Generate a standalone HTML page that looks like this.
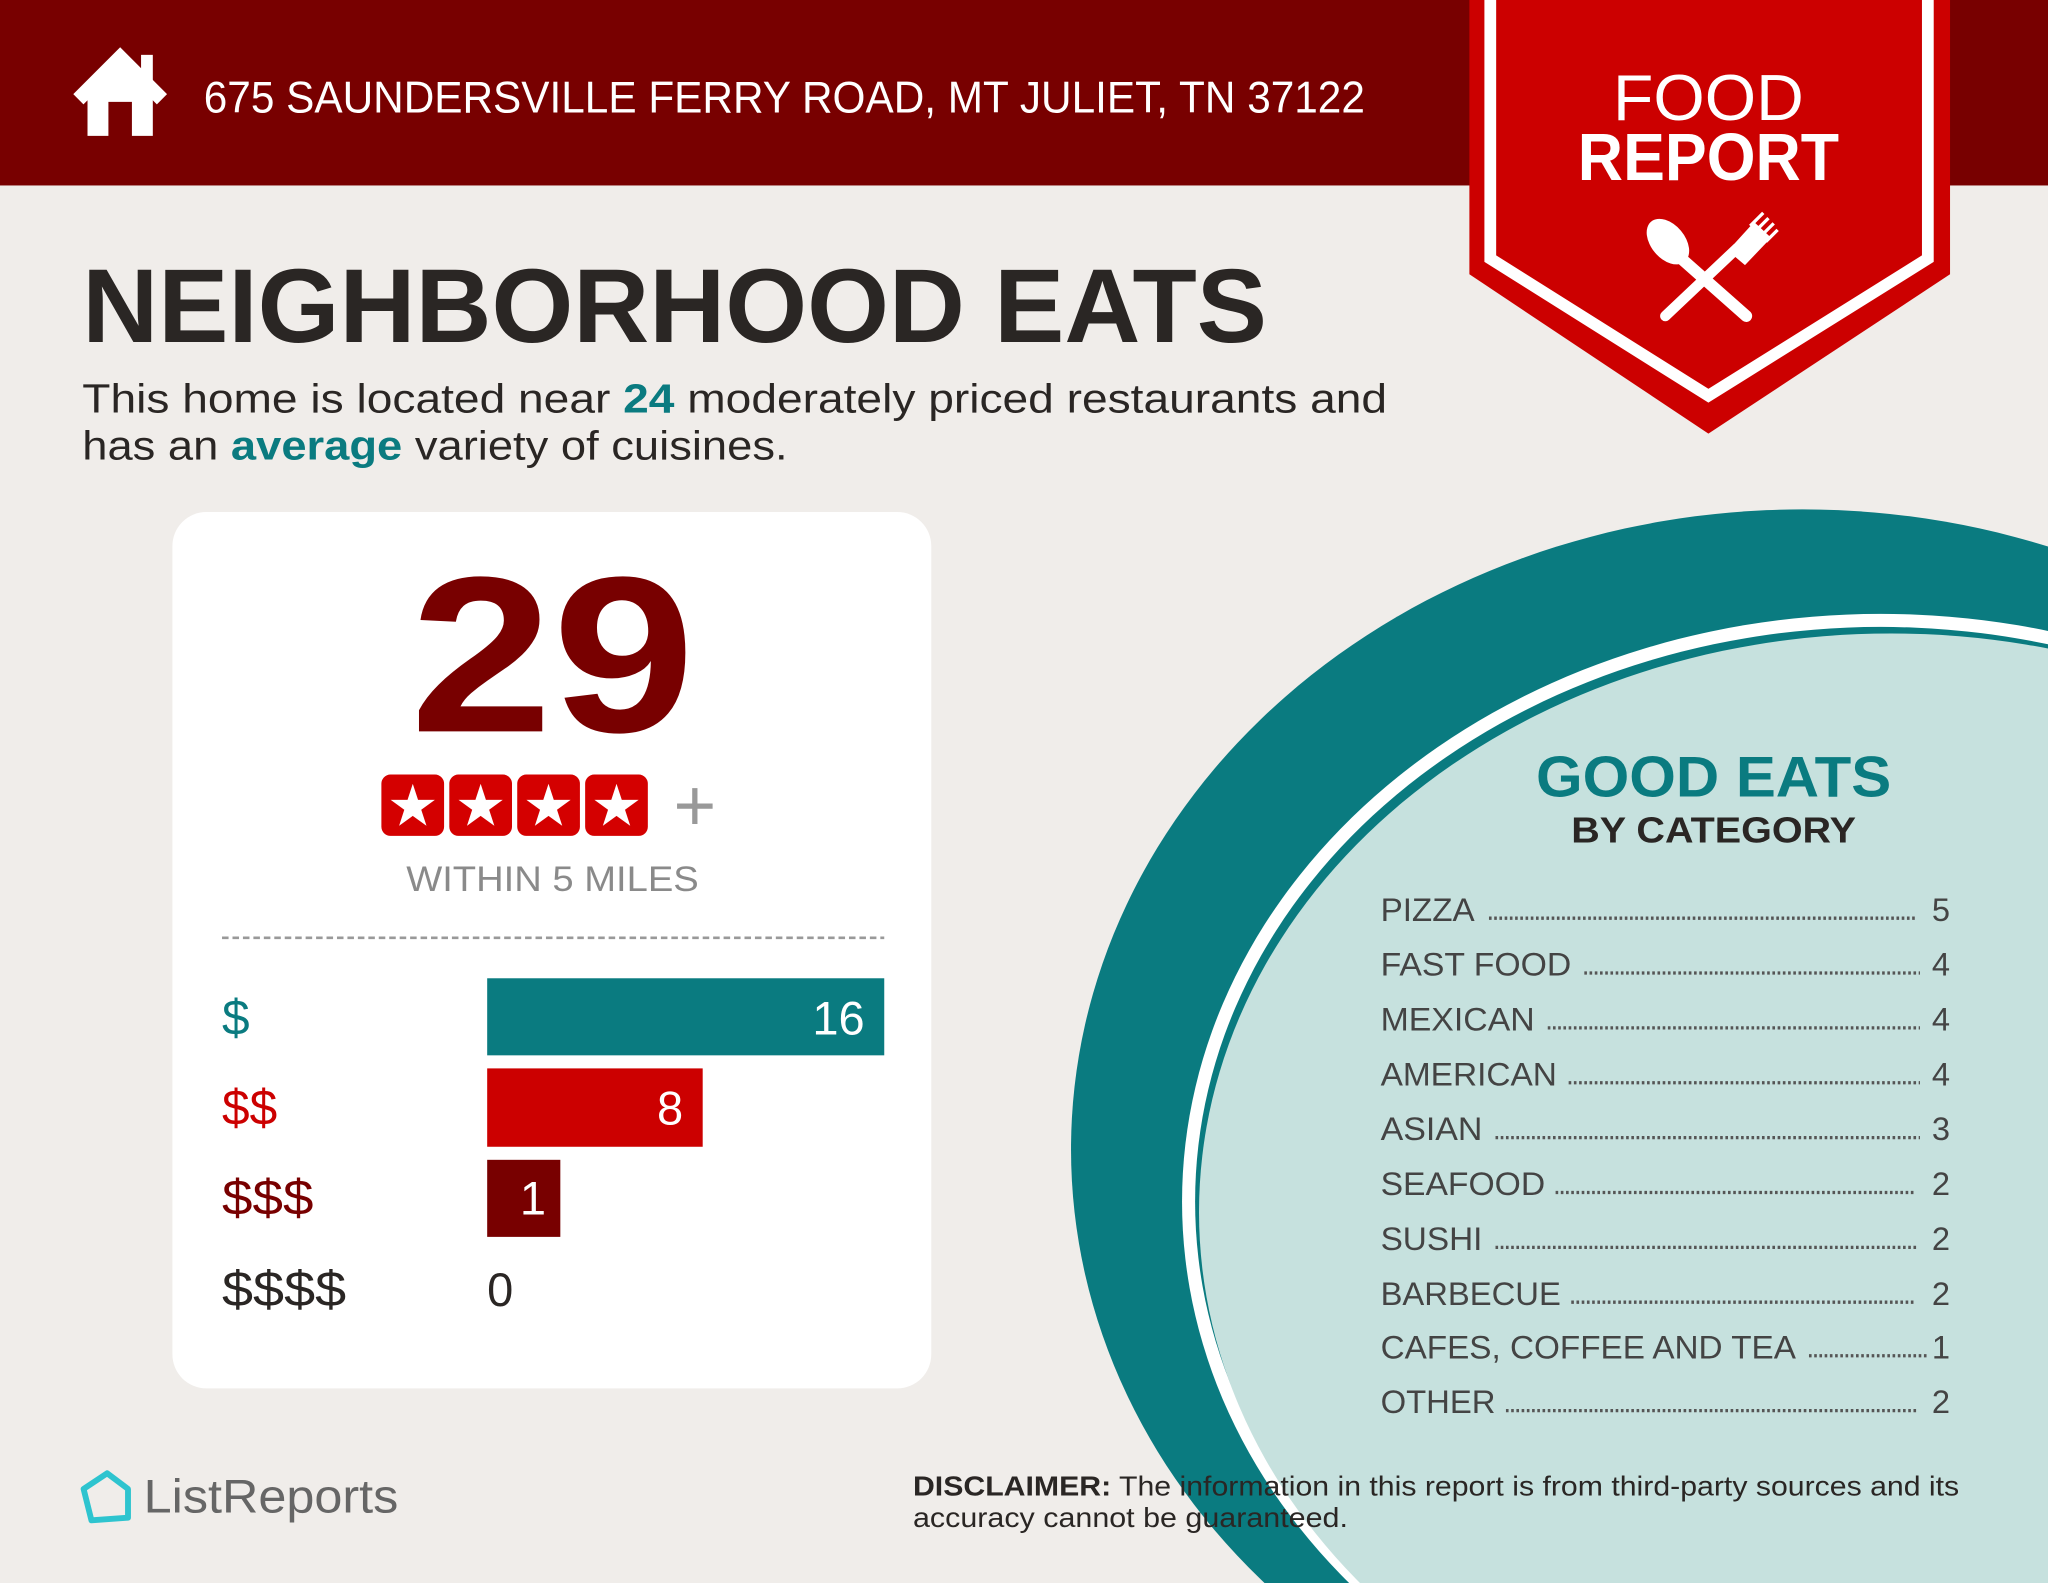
<!DOCTYPE html>
<html><head><meta charset="utf-8"><style>html,body{margin:0;padding:0;background:#f0edea;width:2048px;height:1583px;overflow:hidden}svg{display:block}</style></head>
<body>
<svg width="2048" height="1583" viewBox="0 0 1568 1212" preserveAspectRatio="none" xmlns="http://www.w3.org/2000/svg" font-family="Liberation Sans, sans-serif">
<rect width="1568" height="1212" fill="#f0edea"/>
<rect width="1568" height="142" fill="#780000"/>
<!-- house -->
<polyline points="60,76 92,44 124,76" fill="none" stroke="#fff" stroke-width="11"/>
<rect x="108" y="42" width="9" height="24" fill="#fff"/>
<path d="M67,68 L92,46 L117,68 L117,104 L67,104 Z M83,78 L83,104 L101,104 L101,78 Z" fill="#fff" fill-rule="evenodd"/>
<text x="156" y="86" font-size="34" fill="#fff" textLength="889" lengthAdjust="spacingAndGlyphs">675 SAUNDERSVILLE FERRY ROAD, MT JULIET, TN 37122</text>
<!-- banner -->
<polygon points="1125,0 1493,0 1493,210 1308,332 1125,210" fill="#cc0000"/>
<polyline points="1141,-5 1141,198 1308,303 1476,198 1476,-5" fill="none" stroke="#fff" stroke-width="9"/>
<text x="1308" y="92" font-size="50" fill="#fff" text-anchor="middle" textLength="146" lengthAdjust="spacingAndGlyphs">FOOD</text>
<text x="1308" y="138" font-size="51" font-weight="bold" fill="#fff" text-anchor="middle" textLength="200" lengthAdjust="spacingAndGlyphs">REPORT</text>
<g fill="#fff" stroke="#fff">
<ellipse cx="1277" cy="185" rx="13" ry="20" transform="rotate(-40 1277 185)" stroke="none"/>
<line x1="1285" y1="196" x2="1337" y2="242" stroke-width="9" stroke-linecap="round"/>
<line x1="1275" y1="242" x2="1330" y2="190" stroke-width="8" stroke-linecap="round"/>
<path d="M1323,192 L1343,170 L1356,182 L1336,203 Z" stroke="none"/>
<line x1="1340" y1="173" x2="1350" y2="163" stroke-width="2.5"/>
<line x1="1344" y1="177" x2="1354" y2="167" stroke-width="2.5"/>
<line x1="1348" y1="181" x2="1358" y2="171" stroke-width="2.5"/>
<line x1="1352" y1="185" x2="1361" y2="176" stroke-width="2.5"/>
</g>
<!-- title -->
<text x="63" y="262" font-size="80" font-weight="bold" fill="#2a2624" textLength="907" lengthAdjust="spacingAndGlyphs">NEIGHBORHOOD EATS</text>
<text x="63" y="316" font-size="31" fill="#2a2624" textLength="999" lengthAdjust="spacingAndGlyphs">This home is located near <tspan fill="#0a7b80" font-weight="bold">24</tspan> moderately priced restaurants and</text>
<text x="63" y="352" font-size="31" fill="#2a2624" textLength="540" lengthAdjust="spacingAndGlyphs">has an <tspan fill="#0a7b80" font-weight="bold">average</tspan> variety of cuisines.</text>
<!-- card -->
<rect x="132" y="392" width="581" height="671" rx="26" fill="#fff"/>
<text x="423" y="560" font-size="170" font-weight="bold" fill="#780000" text-anchor="middle" textLength="218" lengthAdjust="spacingAndGlyphs">29</text>
<g>
<rect x="292" y="593" width="48" height="47" rx="7" fill="#d40000"/>
<rect x="344" y="593" width="48" height="47" rx="7" fill="#d40000"/>
<rect x="396" y="593" width="48" height="47" rx="7" fill="#d40000"/>
<rect x="448" y="593" width="48" height="47" rx="7" fill="#d40000"/>
<g fill="#fff" font-size="44" text-anchor="middle">
<text x="316" y="632">★</text><text x="368" y="632">★</text><text x="420" y="632">★</text><text x="472" y="632">★</text>
</g>
<text x="532" y="636" font-size="56" fill="#999" text-anchor="middle">+</text>
</g>
<text x="423" y="682" font-size="27" fill="#8a8a8a" text-anchor="middle" textLength="224" lengthAdjust="spacingAndGlyphs">WITHIN 5 MILES</text>
<line x1="170" y1="718" x2="677" y2="718" stroke="#999" stroke-width="2" stroke-dasharray="5,3"/>
<rect x="373" y="749" width="304" height="59" fill="#0a7b80"/>
<rect x="373" y="818" width="165" height="60" fill="#cc0000"/>
<rect x="373" y="888" width="56" height="59" fill="#780000"/>
<g font-size="38">
<text x="170" y="792" fill="#0a7b80">$</text>
<text x="170" y="861" fill="#cc0000">$$</text>
<text x="170" y="930" fill="#780000" textLength="70" lengthAdjust="spacingAndGlyphs">$$$</text>
<text x="170" y="1000" fill="#2a2624" textLength="95" lengthAdjust="spacingAndGlyphs">$$$$</text>
<text x="662" y="792" fill="#fff" text-anchor="end" font-size="36">16</text>
<text x="523" y="861" fill="#fff" text-anchor="end" font-size="36">8</text>
<text x="408" y="930" fill="#fff" text-anchor="middle" font-size="36">1</text>
<text x="373" y="1000" fill="#2a2624" font-size="36">0</text>
</g>
<!-- circle -->
<ellipse cx="1380" cy="880" rx="560" ry="490" fill="#0a7b80"/>
<ellipse cx="1440" cy="920" rx="535" ry="450" fill="#fff"/>
<ellipse cx="1440" cy="920" rx="525" ry="440" fill="#0a7b80"/>
<ellipse cx="1448" cy="928" rx="530" ry="443" fill="#c6e1de"/>
<text x="1312" y="610" font-size="44" font-weight="bold" fill="#0a7b80" text-anchor="middle" textLength="272" lengthAdjust="spacingAndGlyphs">GOOD EATS</text>
<text x="1312" y="645" font-size="28" font-weight="bold" fill="#2a2624" text-anchor="middle" textLength="218" lengthAdjust="spacingAndGlyphs">BY CATEGORY</text>
<g font-size="25" fill="#444">
<g stroke="#555" stroke-width="2.5" stroke-dasharray="2,2">
<line x1="1140" y1="703" x2="1468" y2="703"/>
<line x1="1213" y1="745" x2="1470" y2="745"/>
<line x1="1185" y1="787" x2="1470" y2="787"/>
<line x1="1201" y1="829" x2="1470" y2="829"/>
<line x1="1145" y1="871" x2="1470" y2="871"/>
<line x1="1191" y1="913" x2="1467" y2="913"/>
<line x1="1145" y1="955" x2="1467" y2="955"/>
<line x1="1203" y1="997" x2="1467" y2="997"/>
<line x1="1385" y1="1038" x2="1476" y2="1038"/>
<line x1="1153" y1="1080" x2="1467" y2="1080"/>
</g>
<text x="1057" y="705" textLength="72" lengthAdjust="spacingAndGlyphs">PIZZA</text>
<text x="1057" y="747" textLength="146" lengthAdjust="spacingAndGlyphs">FAST FOOD</text>
<text x="1057" y="789" textLength="118" lengthAdjust="spacingAndGlyphs">MEXICAN</text>
<text x="1057" y="831" textLength="135" lengthAdjust="spacingAndGlyphs">AMERICAN</text>
<text x="1057" y="873" textLength="78" lengthAdjust="spacingAndGlyphs">ASIAN</text>
<text x="1057" y="915" textLength="126" lengthAdjust="spacingAndGlyphs">SEAFOOD</text>
<text x="1057" y="957" textLength="78" lengthAdjust="spacingAndGlyphs">SUSHI</text>
<text x="1057" y="999" textLength="138" lengthAdjust="spacingAndGlyphs">BARBECUE</text>
<text x="1057" y="1040" textLength="318" lengthAdjust="spacingAndGlyphs">CAFES, COFFEE AND TEA</text>
<text x="1057" y="1082" textLength="88" lengthAdjust="spacingAndGlyphs">OTHER</text>
<g text-anchor="end">
<text x="1493" y="705">5</text><text x="1493" y="747">4</text><text x="1493" y="789">4</text><text x="1493" y="831">4</text><text x="1493" y="873">3</text><text x="1493" y="915">2</text><text x="1493" y="957">2</text><text x="1493" y="999">2</text><text x="1493" y="1040">1</text><text x="1493" y="1082">2</text>
</g>
</g>
<!-- footer -->
<text x="699" y="1145" font-size="21" fill="#2a2624" textLength="801" lengthAdjust="spacingAndGlyphs"><tspan font-weight="bold">DISCLAIMER:</tspan> The information in this report is from third-party sources and its</text>
<text x="699" y="1169" font-size="21" fill="#2a2624" textLength="333" lengthAdjust="spacingAndGlyphs">accuracy cannot be guaranteed.</text>
<path d="M64,1140 L82,1128 L98,1140 L98,1162 L70,1164 Z" fill="none" stroke="#2ec4cf" stroke-width="4.5" stroke-linejoin="round"/>
<text x="110" y="1158" font-size="36" fill="#666" textLength="195" lengthAdjust="spacingAndGlyphs">ListReports</text>
</svg>
</body></html>
